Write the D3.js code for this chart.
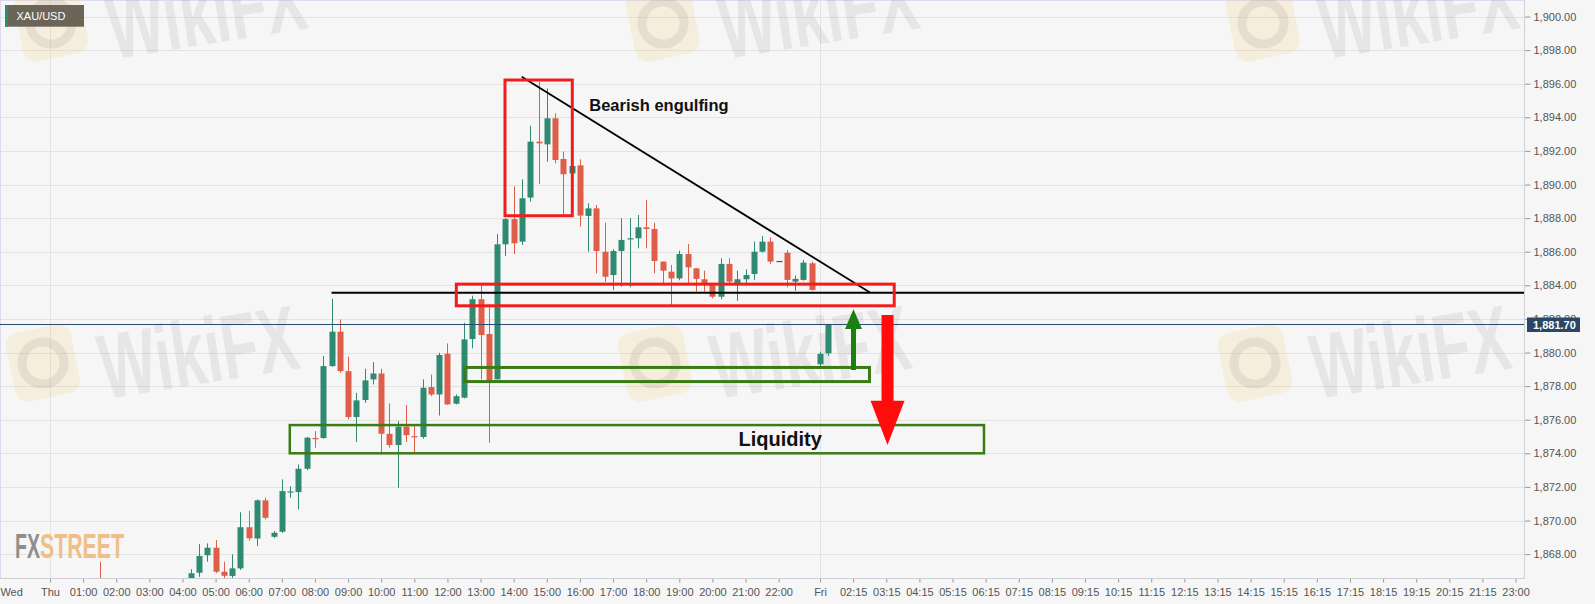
<!DOCTYPE html>
<html><head><meta charset="utf-8">
<script src="https://cdn.jsdelivr.net/npm/d3@7"></script>
<style>html,body{margin:0;padding:0;background:#f6f6f6;overflow:hidden}svg{display:block}</style>
</head><body><svg id="c" width="1595" height="604"></svg>
<script>
// ---------- DATA ----------
const symbol = "XAU/USD";
const lastPrice = 1881.70;
// 15-minute slots counted from Thursday 00:00
const slots  = [6,17,18,19,20,21,22,23,24,25,26,27,28,29,30,31,32,33,34,35,36,37,38,39,40,41,42,43,44,45,46,47,48,49,50,51,52,53,54,55,56,57,58,59,60,61,62,63,64,65,66,67,68,69,70,71,72,73,74,75,76,77,78,79,80,81,82,83,84,85,86,87,88,89,90,91,92,93,94];
const opens  = [1866.3,1866.4,1866.89,1867.93,1868.38,1866.95,1866.70,1867.15,1869.60,1868.93,1871.20,1869.03,1869.33,1871.69,1871.69,1873.08,1874.91,1874.91,1879.19,1881.24,1878.89,1876.16,1877.17,1878.40,1878.75,1875.16,1874.49,1875.58,1875.02,1874.97,1877.94,1877.50,1879.93,1876.95,1877.31,1880.80,1883.17,1881.10,1878.40,1886.44,1887.94,1886.60,1889.22,1892.55,1892.39,1893.94,1891.52,1890.66,1891.14,1888.13,1888.58,1886.00,1884.61,1886.04,1886.76,1886.80,1887.45,1887.35,1885.41,1884.81,1884.41,1885.86,1885.01,1884.36,1884.12,1883.32,1885.27,1884.02,1884.36,1884.67,1886.00,1886.60,1885.45,1885.94,1884.22,1884.32,1885.31,1879.30,1879.95];
const highs  = [1867.55,1867.1,1868.60,1868.64,1868.84,1867.55,1867.99,1870.49,1870.57,1871.25,1871.35,1869.37,1872.45,1872.05,1873.34,1874.98,1875.32,1879.79,1883.2,1881.97,1879.75,1877.6,1879.03,1879.43,1879.03,1876.97,1875.92,1876.87,1875.62,1878.40,1878.69,1879.98,1880.54,1877.50,1881.77,1883.38,1884.02,1882.87,1887.05,1888.0,1889.89,1890.31,1893.5,1896.12,1895.72,1894.24,1891.96,1891.2,1891.5,1888.88,1888.78,1887.73,1886.15,1887.99,1887.99,1888.18,1889.08,1887.73,1885.41,1885.21,1886.06,1886.46,1885.01,1884.87,1884.12,1885.61,1885.61,1884.87,1884.95,1886.60,1886.93,1886.85,1885.45,1886.10,1884.58,1885.51,1885.41,1880.05,1881.70];
const lows   = [1865.0,1866.2,1866.65,1867.55,1866.86,1866.55,1866.55,1867.05,1868.80,1868.48,1870.06,1868.97,1869.27,1871.35,1870.66,1873.0,1874.33,1874.87,1879.15,1878.79,1876.02,1874.67,1877.0,1878.10,1873.93,1874.33,1871.95,1874.67,1874.03,1874.87,1877.40,1876.25,1876.88,1876.91,1877.27,1880.25,1878.40,1874.63,1878.40,1885.74,1885.85,1886.40,1888.98,1890.03,1891.36,1891.26,1888.19,1890.6,1887.49,1886.0,1884.71,1884.21,1883.72,1883.92,1883.88,1886.2,1886.2,1884.71,1884.12,1882.73,1884.30,1884.12,1883.62,1883.62,1883.22,1883.17,1884.02,1883.08,1883.96,1884.32,1885.95,1885.27,1885.45,1883.88,1883.68,1884.28,1883.68,1879.16,1879.80];
const closes = [1865.9,1866.86,1867.89,1868.38,1866.95,1866.71,1867.15,1869.60,1868.94,1871.20,1870.16,1869.27,1871.75,1871.73,1873.08,1874.93,1874.87,1879.19,1881.24,1878.89,1876.16,1877.15,1878.34,1878.75,1875.16,1874.49,1875.58,1875.08,1874.95,1877.90,1877.50,1879.85,1876.91,1877.40,1880.78,1883.17,1881.04,1878.36,1886.44,1887.94,1886.50,1889.18,1892.55,1892.45,1893.94,1891.46,1890.61,1891.10,1888.15,1888.58,1886.04,1884.51,1886.04,1886.70,1886.80,1887.45,1887.35,1885.45,1884.87,1884.41,1885.86,1885.07,1884.38,1884.12,1883.32,1885.27,1884.22,1884.36,1884.61,1886.00,1886.60,1885.41,1885.45,1884.32,1884.38,1885.35,1883.72,1879.92,1881.70];

const yTicks = [1868,1870,1872,1874,1876,1878,1880,1882,1884,1886,1888,1890,1892,1894,1896,1898,1900];
const xTickLabels = ["Wed","Thu","01:00","02:00","03:00","04:00","05:00","06:00","07:00","08:00","09:00","10:00","11:00","12:00","13:00","14:00","15:00","16:00","17:00","18:00","19:00","20:00","21:00","22:00","Fri","02:15","03:15","04:15","05:15","06:15","07:15","08:15","09:15","10:15","11:15","12:15","13:15","14:15","15:15","16:15","17:15","18:15","19:15","20:15","21:15","23:00"];
const xTickSlots  = [-4.7,0,4,8,12,16,20,24,28,32,36,40,44,48,52,56,60,64,68,72,76,80,84,88,93,97,101,105,109,113,117,121,125,129,133,137,141,145,149,153,157,161,165,169,173,177];
const dayBreakSlots = [0,93];

// annotations (slot, price)
const supportLine   = {s0:34.0, v:1883.56};
const trendLine     = {s0:56.97, v0:1896.42, s1:99.03, v1:1883.57};
const engulfBox     = {s0:54.95, s1:63.08, top:1896.22, bottom:1888.14};
const resistBox     = {s0:49.07, s1:101.96, top:1884.07, bottom:1882.78};
const supportBox    = {s0:50.08, s1:98.97, top:1879.11, bottom:1878.27};
const liquidityBox  = {s0:28.96, s1:112.8, top:1875.68, bottom:1874.0};
const labels = [{text:"Bearish engulfing", s:65.13, v:1894.40, size:16.5},
                {text:"Liquidity", s:83.15, v:1874.43, size:20}];
const upArrow   = {s:97.04, from:1878.96, headBase:1881.40, tip:1882.57};
const downArrow = {s:101.15, from:1882.23, headBase:1877.13, tip:1874.49};

// ---------- CHART ----------
const W = 1595, H = 604;
const plotR = 1524, plotB = 578;
const FONT = "'Liberation Sans', Arial, sans-serif";
const svg = d3.select("#c");
const x = d3.scaleLinear().domain([0,177]).range([50, 50+177*8.28]);
const y = d3.scaleLinear().domain([1868,1900]).range([554.1,16.5]);

svg.append("rect").attr("width",W).attr("height",H).attr("fill","#f6f6f6");
svg.append("defs").append("clipPath").attr("id","pc").append("rect")
  .attr("x",0).attr("y",0).attr("width",plotR).attr("height",plotB);

// grid
const grid = svg.append("g");
grid.selectAll("line.h").data(yTicks).join("line")
  .attr("x1",0).attr("x2",plotR)
  .attr("y1",d=>Math.round(y(d))+0.5).attr("y2",d=>Math.round(y(d))+0.5)
  .attr("stroke","#e3e3e3").attr("stroke-width",1);
grid.selectAll("line.v").data(dayBreakSlots).join("line")
  .attr("y1",0).attr("y2",plotB)
  .attr("x1",d=>Math.round(x(d))+0.5).attr("x2",d=>Math.round(x(d))+0.5)
  .attr("stroke","#e3e3e3").attr("stroke-width",1);
// lavender frame top/left
svg.append("line").attr("x1",0).attr("x2",plotR).attr("y1",0.5).attr("y2",0.5).attr("stroke","#dcdcef");
svg.append("line").attr("x1",0.5).attr("x2",0.5).attr("y1",0).attr("y2",plotB).attr("stroke","#dcdcef");

// watermark
const wm = svg.append("g").attr("clip-path","url(#pc)");
const wmCols = [0,612,1212], wmRows = [{dx:8,dy:-340},{dx:0,dy:0}];
wmRows.forEach(r=>wmCols.forEach(cx=>{
  const g = wm.append("g");
  const lg = g.append("g").attr("transform",`translate(${43+cx+r.dx},${363+r.dy}) rotate(-12)`);
  lg.append("rect").attr("x",-33).attr("y",-35).attr("width",66).attr("height",70).attr("rx",13)
    .attr("fill","rgba(250,200,100,0.17)");
  lg.append("circle").attr("r",21).attr("fill","none").attr("stroke","rgba(120,105,105,0.13)").attr("stroke-width",9);
  g.append("g").attr("transform",`translate(${198+cx+r.dx},${351+r.dy}) rotate(-9)`)
   .append("text").attr("x",0).attr("y",33).attr("text-anchor","middle")
   .attr("font-family",FONT).attr("font-weight","bold").attr("font-size",92)
   .attr("textLength",200).attr("lengthAdjust","spacingAndGlyphs")
   .attr("fill","rgba(110,95,95,0.11)").text("WikiFX");
}));

// candles
const data = slots.map((s,i)=>({s,o:opens[i],h:highs[i],l:lows[i],c:closes[i]}));
const UP = "#2f8a72", DN = "#df5e49";
const cg = svg.append("g").attr("clip-path","url(#pc)");
const col = d=> d.c>d.o?UP:(d.c<d.o?DN:"#555");
cg.selectAll("line.w").data(data).join("line")
  .attr("x1",d=>Math.round(x(d.s))+0.5).attr("x2",d=>Math.round(x(d.s))+0.5)
  .attr("y1",d=>y(d.h)).attr("y2",d=>y(d.l)).attr("stroke",col).attr("stroke-width",1);
cg.selectAll("rect.b").data(data).join("rect")
  .attr("x",d=>Math.round(x(d.s))-2.5).attr("width",6)
  .attr("y",d=>y(Math.max(d.o,d.c)))
  .attr("height",d=>Math.max(1.2,Math.abs(y(d.o)-y(d.c))))
  .attr("fill",col);

// price line
const py = Math.round(y(lastPrice))+0.5;
svg.append("line").attr("x1",0).attr("x2",plotR).attr("y1",py).attr("y2",py)
  .attr("stroke","#2c4a6b").attr("stroke-width",1);

// annotations
const an = svg.append("g").attr("clip-path","url(#pc)");
an.append("line").attr("x1",x(supportLine.s0)).attr("x2",plotR)
  .attr("y1",y(supportLine.v)).attr("y2",y(supportLine.v)).attr("stroke","#000").attr("stroke-width",2);
an.append("line").attr("x1",x(trendLine.s0)).attr("y1",y(trendLine.v0))
  .attr("x2",x(trendLine.s1)).attr("y2",y(trendLine.v1)).attr("stroke","#000").attr("stroke-width",1.8);
function box(b,color,w){
  an.append("rect").attr("x",x(b.s0)).attr("y",y(b.top))
    .attr("width",x(b.s1)-x(b.s0)).attr("height",y(b.bottom)-y(b.top))
    .attr("fill","none").attr("stroke",color).attr("stroke-width",w);
}
box(engulfBox,"#f21c1c",3);
box(resistBox,"#f21c1c",3);
box(supportBox,"#3a7b14",3);
box(liquidityBox,"#3a7b14",2.5);
labels.forEach(l=>{
  an.append("text").attr("x",x(l.s)).attr("y",y(l.v)).attr("font-family",FONT)
    .attr("font-weight","bold").attr("font-size",l.size).attr("fill","#111").text(l.text);
});
function arrow(a,color,shaftW,headW){
  const cx=x(a.s), y0=y(a.from), yb=y(a.headBase), yt=y(a.tip);
  const pts=[[cx-shaftW/2,y0],[cx-shaftW/2,yb],[cx-headW/2,yb],[cx,yt],[cx+headW/2,yb],[cx+shaftW/2,yb],[cx+shaftW/2,y0]];
  an.append("path").attr("d",d3.line()(pts)+"Z").attr("fill",color);
}
arrow(upArrow,"#1a800f",5,17);
arrow(downArrow,"#ff0d0d",12,34);

// right axis
const ra = svg.append("g").attr("transform",`translate(${plotR+0.5},0)`)
  .call(d3.axisRight(y).tickValues(yTicks).tickSize(6).tickPadding(3).tickFormat(d3.format(",.2f")));
ra.select(".domain").remove();
ra.selectAll(".tick line").attr("stroke","#9a9a9a");
ra.selectAll("text").attr("font-family",FONT).attr("font-size",11).attr("fill","#555");
svg.append("line").attr("x1",plotR+0.5).attr("x2",plotR+0.5).attr("y1",0).attr("y2",plotB)
  .attr("stroke","#cfcfd6");

// bottom axis
const ba = svg.append("g").attr("transform",`translate(0,${plotB+0.5})`)
  .call(d3.axisBottom(x).tickValues(xTickSlots).tickSize(4).tickPadding(6).tickFormat((d,i)=>xTickLabels[i]));
ba.select(".domain").remove();
ba.selectAll(".tick line").attr("stroke","#9a9a9a");
ba.selectAll(".tick").filter((d,i)=>i===0).select("line").remove();
ba.selectAll("text").attr("font-family",FONT).attr("font-size",11).attr("fill","#555");
svg.append("line").attr("x1",0).attr("x2",plotR+1).attr("y1",plotB+0.5).attr("y2",plotB+0.5)
  .attr("stroke","#cfcfd6");

// last price tag
svg.append("rect").attr("x",1527).attr("y",py-7).attr("width",53).attr("height",14.5).attr("fill","#2a4766");
svg.append("text").attr("x",1533).attr("y",py+4).attr("font-family",FONT).attr("font-weight","bold")
  .attr("font-size",11).attr("fill","#fff").text(d3.format(",.2f")(lastPrice));

// symbol label
svg.append("rect").attr("x",5).attr("y",5).attr("width",79).attr("height",21.7).attr("fill","#6a6558");
svg.append("rect").attr("x",5).attr("y",5).attr("width",3).attr("height",21.7).attr("fill","#2e8b6e");
svg.append("text").attr("x",16.5).attr("y",20).attr("font-family",FONT).attr("font-size",11)
  .attr("fill","#fff").text(symbol);

// FXSTREET logo
svg.append("text").attr("x",15).attr("y",558.3).attr("font-family","'Liberation Sans Narrow', 'Liberation Sans', Arial, sans-serif")
  .attr("font-weight","bold").attr("font-size",35).attr("textLength",25).attr("lengthAdjust","spacingAndGlyphs")
  .attr("fill","#8e8e8e").text("FX");
svg.append("text").attr("x",40).attr("y",558.3).attr("font-family","'Liberation Sans Narrow', 'Liberation Sans', Arial, sans-serif")
  .attr("font-weight","bold").attr("font-size",35).attr("textLength",84).attr("lengthAdjust","spacingAndGlyphs")
  .attr("fill","#f0be88").text("STREET");
</script></body></html>
